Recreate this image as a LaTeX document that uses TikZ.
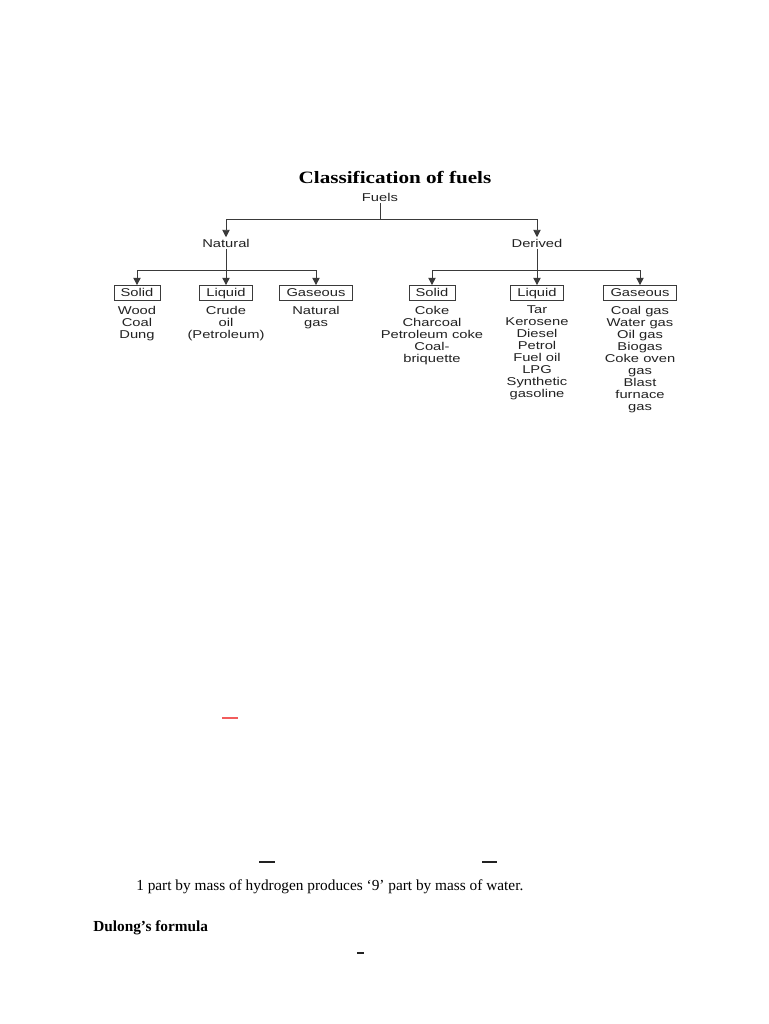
\documentclass[tikz,border=0pt]{standalone}
\usepackage{fontspec}
\setmainfont{Liberation Serif}
\newfontfamily\chartfont[FakeStretch=1.3]{Liberation Sans}
\newfontfamily\headfont[FakeStretch=1.22]{Liberation Serif}
\usetikzlibrary{arrows.meta,positioning}
\definecolor{ink}{HTML}{222222}
\definecolor{wire}{HTML}{3A3A3A}
\definecolor{slip}{HTML}{F25C5C}
\tikzset{
  lbl/.style={font=\chartfont\fontsize{8.5}{9}\selectfont,text=ink,inner sep=1pt},
  tag/.style={lbl,draw=wire,line width=0.6pt,inner xsep=5pt,inner ysep=1.5pt,
    text height=6.4pt,text depth=1.8pt},
  items/.style={lbl,align=center,anchor=north,execute at begin node={\rule{0pt}{6.6pt}}},
  wire/.style={draw=wire,line width=0.6pt},
  arr/.style={wire,-{Triangle[length=5.5pt,width=5.5pt]}},
  bar/.style={line width=1.3pt,draw=#1},
  bar/.default=ink,
}
\begin{document}
\begin{tikzpicture}[x=0.75pt,y=-0.75pt]
  \fill[white] (0,0) rectangle (768,1024);
  \useasboundingbox (0,0) rectangle (768,1024);
  % heading and top levels
  \node[font=\headfont\fontsize{13}{15}\selectfont\bfseries] (title) at (395,178) {Classification of fuels};
  \node[lbl] (fuels) at (380,197) {Fuels};
  \node[lbl] (natural) at (226,243) {Natural};
  \node[lbl] (derived) at (537,243) {Derived};
  \coordinate (j0) at (380,219);
  \draw[wire] (fuels) -- (j0);
  \draw[arr] (j0) -| (natural);
  \draw[arr] (j0) -| (derived);
  % state boxes
  \foreach \nm/\x/\txt in {nsolid/137/Solid,nliquid/226/Liquid,ngas/316/Gaseous,
                           dsolid/432/Solid,dliquid/537/Liquid,dgas/640/Gaseous}
    \node[tag] (\nm) at (\x,293) {\txt};
  \coordinate (j1) at (226,270);
  \coordinate (j2) at (537,270);
  \draw[wire] (natural) -- (j1);
  \draw[wire] (derived) -- (j2);
  \draw[arr] (j1) -| (nsolid);
  \draw[arr] (j1) -- (nliquid);
  \draw[arr] (j1) -| (ngas);
  \draw[arr] (j2) -| (dsolid);
  \draw[arr] (j2) -- (dliquid);
  \draw[arr] (j2) -| (dgas);
  % examples
  \node[items,below=2.5pt of nsolid] (nsolidl) {Wood\\Coal\\Dung};
  \node[items,below=2.5pt of nliquid] (nliquidl) {Crude\\oil\\(Petroleum)};
  \node[items,below=2.5pt of ngas] (ngasl) {Natural\\gas};
  \node[items,below=2.5pt of dsolid] (dsolidl) {Coke\\Charcoal\\Petroleum coke\\Coal-\\briquette};
  \node[items,below=2.5pt of dliquid] (dliquidl) {Tar\\Kerosene\\Diesel\\Petrol\\Fuel oil\\LPG\\Synthetic\\gasoline};
  \node[items,below=2.5pt of dgas] (dgasl) {Coal gas\\Water gas\\Oil gas\\Biogas\\Coke oven\\gas\\Blast\\furnace\\gas};
  % page remains
  \draw[bar=slip] (222,718) -- (238,718);
  \draw[bar] (259,862) -- (275,862);
  \draw[bar] (482,862) -- (497,862);
  \draw[bar] (357,953) -- (364,953);
  \node[anchor=west,font=\fontsize{11.5}{14}\selectfont,inner sep=0pt] (hline) at (136,887)
    {1 part by mass of hydrogen produces ‘9’ part by mass of water.};
  \node[anchor=west,font=\fontsize{11.5}{14}\selectfont\bfseries,inner sep=0pt] (dulong) at (93,928)
    {Dulong’s formula};
\end{tikzpicture}
\end{document}
